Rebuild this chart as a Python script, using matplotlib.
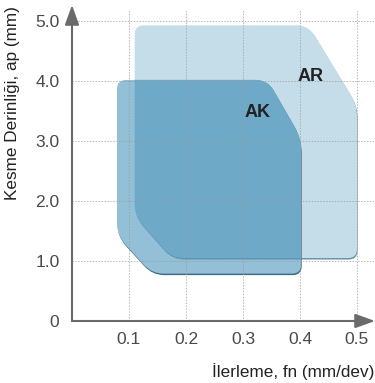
import numpy as np
import matplotlib
matplotlib.use('Agg')
import matplotlib.pyplot as plt
from matplotlib.path import Path
from matplotlib.patches import PathPatch
import matplotlib.transforms as mtransforms

plt.rcParams['font.family'] = ['Liberation Sans', 'DejaVu Sans']

# ---- data ----
x_ticks = [0.1, 0.2, 0.3, 0.4, 0.5]
x_tick_labels = ['0.1', '0.2', '0.3', '0.4', '0.5']
y_ticks = [0, 1, 2, 3, 4, 5]
y_tick_labels = ['0', '1.0', '2.0', '3.0', '4.0', '5.0']

# application area outlines (feed fn mm/dev, depth ap mm)
ar_feed = [0.110, 0.415, 0.500, 0.500, 0.175, 0.110]
ar_depth = [4.93, 4.93, 3.60, 1.05, 1.05, 1.75]
ak_feed = [0.079, 0.343, 0.402, 0.402, 0.140, 0.079]
ak_depth = [4.02, 4.02, 3.05, 0.79, 0.79, 1.43]

area_labels = ['AR', 'AK']
label_feed = [0.418, 0.325]
label_depth = [4.07, 3.47]

x_title = 'İlerleme, fn (mm/dev)'
y_title = 'Kesme Derinliği, ap (mm)'

# ---- figure ----
W, H = 375, 383
fig = plt.figure(figsize=(W / 100, H / 100), dpi=100)
ax = fig.add_axes([72 / W, 62 / H, 303 / W, 316 / H])
ax.set_xlim(0, 0.5316)
ax.set_ylim(0, 5.27)
for s in ax.spines.values():
    s.set_visible(False)


def rounded_path(xs, ys, radii):
    pts = ax.transData.transform(np.column_stack([xs, ys]))
    n = len(pts)
    verts, codes = [], []
    for i in range(n):
        p = pts[i]
        prev = pts[i - 1]
        nxt = pts[(i + 1) % n]
        d1 = prev - p
        d1 = d1 / np.linalg.norm(d1)
        d2 = nxt - p
        d2 = d2 / np.linalg.norm(d2)
        r = radii[i]
        a = p + d1 * r
        b = p + d2 * r
        verts.append(a)
        codes.append(Path.MOVETO if i == 0 else Path.LINETO)
        verts += [p, b]
        codes += [Path.CURVE3, Path.CURVE3]
    verts.append(verts[0])
    codes.append(Path.CLOSEPOLY)
    data = ax.transData.inverted().transform(np.array(verts))
    return Path(data, codes)


radii_ar = [9, 12, 12, 9, 12, 12]
radii_ak = [9, 12, 14, 9, 12, 12]
ar_path = rounded_path(ar_feed, ar_depth, radii_ar)
ak_path = rounded_path(ak_feed, ak_depth, radii_ak)

shadow_tr = mtransforms.offset_copy(ax.transData, fig=fig, x=0.6, y=-1.5, units='dots')

c_ar = '#c5dde9'
c_ak = '#93c0d6'
c_ov = '#6fa9c8'

# AR
ax.add_patch(PathPatch(ar_path, facecolor='#6b93a8', edgecolor='none', transform=shadow_tr, zorder=1))
ar_patch = PathPatch(ar_path, facecolor=c_ar, edgecolor='none', zorder=1.1)
ax.add_patch(ar_patch)
# AK
ax.add_patch(PathPatch(ak_path, facecolor='#3e6c84', edgecolor='none', transform=shadow_tr, zorder=1.2))
ak_patch = PathPatch(ak_path, facecolor=c_ak, edgecolor='none', zorder=1.3)
ax.add_patch(ak_patch)
# overlap
ov = PathPatch(ak_path, facecolor=c_ov, edgecolor='none', zorder=1.4)
ax.add_patch(ov)
ov.set_clip_path(ar_patch)
# AR shadow visible through AK
ars = PathPatch(ar_path, facecolor='#5a97b6', edgecolor='none', transform=shadow_tr, zorder=1.35)
ax.add_patch(ars)
ars.set_clip_path(ak_patch)

# grid
ax.vlines(x_ticks, 0, 5.18, colors='#9a9a9a', linestyles=(0, (1.5, 1.5)), linewidth=0.7, alpha=0.7, zorder=2)
ax.hlines(y_ticks[1:], 0, 0.5316, colors='#9a9a9a', linestyles=(0, (1.5, 1.5)), linewidth=0.7, alpha=0.7, zorder=2, clip_on=False)

# axes arrows
arrow_kw = dict(arrowstyle='-|>,head_length=1.0,head_width=0.36', color='#6a6a6a', lw=1.5,
                mutation_scale=12, shrinkA=0, shrinkB=0)
ax.annotate('', xy=(1.0, 0), xycoords='axes fraction', xytext=(0, 0), textcoords='axes fraction',
            arrowprops=arrow_kw, zorder=5)
ax.annotate('', xy=(0, 1.0), xycoords='axes fraction', xytext=(0, 0), textcoords='axes fraction',
            arrowprops=arrow_kw, zorder=5)

# ticks
ax.set_xticks(x_ticks, x_tick_labels)
ax.set_yticks(y_ticks, y_tick_labels)
ax.tick_params(axis='both', length=0, labelsize=12.5, labelcolor='#4a4a4a')
ax.tick_params(axis='x', pad=8)
ax.tick_params(axis='y', pad=9)

# area labels
for lab, fx, dy in zip(area_labels, label_feed, label_depth):
    ax.text(fx, dy, lab, ha='center', va='center', fontsize=13, fontweight='bold', color='#222222', zorder=6)

# axis titles
ax.text((13 - 72) / 303, (321 - 103) / 316, y_title, transform=ax.transAxes, rotation=90,
        ha='center', va='center', fontsize=12.3, color='#222222')
ax.text((374 - 72) / 303, (321 - 372) / 316, x_title, transform=ax.transAxes,
        ha='right', va='center', fontsize=12.3, color='#222222')

fig.savefig('out.png', dpi=100)
